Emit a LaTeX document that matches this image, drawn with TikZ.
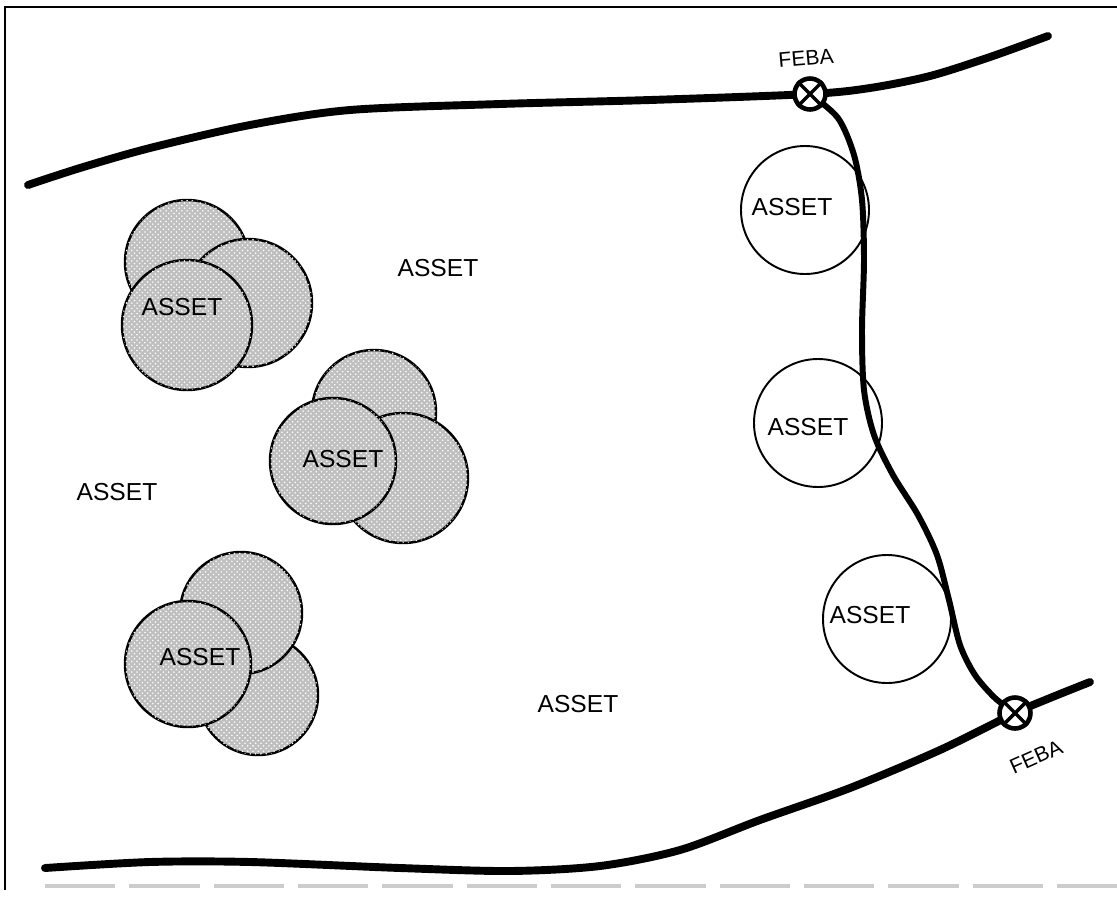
\documentclass[tikz,border=0pt]{standalone}
\usepackage{fontspec}
\setmainfont{Liberation Sans}
\usetikzlibrary{patterns}

\begin{document}
\begin{tikzpicture}[x=0.02cm, y=-0.02cm,
    shaded/.style={draw, line width=1.4pt, fill=gray!50, postaction={pattern=crosshatch dots, pattern color=white}},
    plain/.style={draw, line width=1.1pt, fill=white},
    lbl/.style={font=\fontsize{14}{14}\selectfont},
    feba/.style={circle, draw, line width=2.6pt, fill=white, minimum size=0.62cm, inner sep=0pt},
    front/.style={line width=4.5pt, line cap=round}]
    \useasboundingbox (0,0) rectangle (1117,904);

    % frame
    \draw[line width=1.2pt] (1117,7) -- (5,7) -- (5,890);
    \draw[gray!40, line width=2pt, dash pattern=on 40pt off 8pt] (45,886) -- (1117,886);

    % shaded clusters
    \draw[shaded] (187,262) circle (62);
    \draw[shaded] (248,303) circle (64);
    \draw[shaded] (187,325) circle (65);
    \draw[shaded] (374,412) circle (62);
    \draw[shaded] (403,478) circle (65);
    \draw[shaded] (333,461) circle (63);
    \draw[shaded] (258,695) circle (60);
    \draw[shaded] (241,613) circle (61);
    \draw[shaded] (188,664) circle (63);

    % white circles
    \draw[plain] (805,210) circle (64);
    \draw[plain] (818,423) circle (64);
    \draw[plain] (887,619) circle (64);

    \coordinate (fT) at (810,94);
    \coordinate (fB) at (1015,713);

    % FEBA lines
    \draw[front] plot[smooth] coordinates {(28,185) (80,168) (150,148) (250,125) (350,110) (500,104) (650,100) (fT) (870,88) (930,76) (990,57) (1048,36)};
    \draw[front] plot[smooth] coordinates {(45,868) (150,862) (250,862) (400,868) (510,871) (600,866) (680,850) (760,820) (850,788) (940,750) (fB) (1050,698) (1090,682)};
    \draw[line width=3.4pt] plot[smooth] coordinates {(fT) (838,118) (854,155) (862,200) (864,260) (862,330) (864,390) (874,435) (893,475) (918,515) (937,555) (949,600) (960,645) (975,675) (995,698) (fB)};

    \node[feba] (febaT) at (fT) {};
    \draw[line width=2pt] (febaT.45) -- (febaT.225) (febaT.135) -- (febaT.315);
    \node[feba] (febaB) at (fB) {};
    \draw[line width=2pt] (febaB.45) -- (febaB.225) (febaB.135) -- (febaB.315);

    \node[font=\fontsize{12}{12}\selectfont, rotate=5] (lblT) at (806,58) {FEBA};
    \node[font=\fontsize{12}{12}\selectfont, rotate=24] (lblB) at (1036,757) {FEBA};

    % labels
    \node[lbl] (a1) at (182,307) {ASSET};
    \node[lbl] (a2) at (343,459) {ASSET};
    \node[lbl] (a3) at (200,657) {ASSET};
    \node[lbl] (a4) at (438,268) {ASSET};
    \node[lbl] (a5) at (117,492) {ASSET};
    \node[lbl] (a6) at (578,704) {ASSET};
    \node[lbl] (a7) at (792,207) {ASSET};
    \node[lbl] (a8) at (808,427) {ASSET};
    \node[lbl] (a9) at (870,615) {ASSET};
\end{tikzpicture}
\end{document}
